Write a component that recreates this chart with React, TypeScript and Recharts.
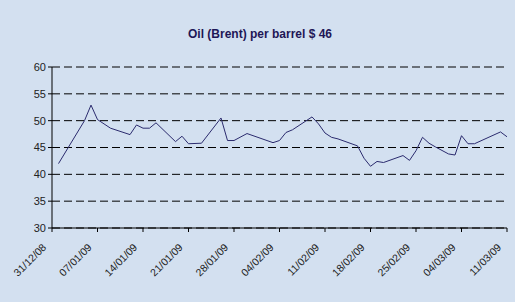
import { LineChart, Line, XAxis, YAxis, CartesianGrid } from "recharts";

// days counted from 31/12/08
const days = [1, 5, 6, 7, 9, 12, 13, 14, 15, 16, 19, 20, 21, 23, 26, 27, 28, 30, 34, 35, 36, 37, 40, 41, 42, 43, 44, 47, 48, 49, 50, 51, 54, 55, 56, 57, 58, 59, 61, 62, 63, 64, 65, 69, 70];
const prices = [42.0, 50.0, 52.9, 50.2, 48.6, 47.4, 49.2, 48.6, 48.6, 49.6, 46.1, 47.1, 45.7, 45.8, 50.5, 46.3, 46.3, 47.6, 45.9, 46.3, 47.8, 48.3, 50.7, 49.4, 47.7, 46.9, 46.6, 45.3, 43.0, 41.5, 42.4, 42.2, 43.5, 42.6, 44.4, 46.9, 45.8, 45.1, 43.8, 43.6, 47.2, 45.7, 45.7, 47.9, 47.0];

const tickDays = [0, 7, 14, 21, 28, 35, 42, 49, 56, 63, 70];
const tickLabels = ["31/12/08", "07/01/09", "14/01/09", "21/01/09", "28/01/09", "04/02/09", "11/02/09", "18/02/09", "25/02/09", "04/03/09", "11/03/09"];
const yTicks = [30, 35, 40, 45, 50, 55, 60];

const data = days.map((d, i) => ({ day: d, price: prices[i] }));

const FONT = "'Liberation Sans', Arial, sans-serif";

function DateTick(props: any) {
  const { x, y, payload } = props;
  const idx = tickDays.indexOf(payload.value);
  const ax = x - 5;
  const ay = y + 14;
  return (
    <text
      x={ax}
      y={ay}
      transform={`rotate(-45, ${ax}, ${ay})`}
      textAnchor="end"
      fontSize={10.5}
      fontFamily={FONT}
      fill="#222"
    >
      {tickLabels[idx]}
    </text>
  );
}

export default function App() {
  return (
    <div style={{ position: "relative", width: 515, height: 302, background: "#d3e0f0" }}>
      <style>{`body{margin:0}`}</style>
      <div
        style={{
          position: "absolute",
          top: 27,
          left: 0,
          width: 520,
          textAlign: "center",
          fontFamily: FONT,
          fontWeight: "bold",
          fontSize: 12,
          color: "#1e1656",
        }}
      >
        Oil (Brent) per barrel $ 46
      </div>
      <LineChart
        width={515}
        height={302}
        data={data}
        margin={{ top: 67, right: 8, bottom: 0, left: 0 }}
      >
        <CartesianGrid vertical={false} stroke="#000" strokeDasharray="8 4" />
        <XAxis
          dataKey="day"
          type="number"
          domain={[0, 70]}
          ticks={tickDays}
          interval={0}
          stroke="#000"
          tickSize={4}
          tick={<DateTick />}
          height={74}
        />
        <YAxis
          domain={[30, 60]}
          ticks={yTicks}
          interval={0}
          width={52}
          stroke="#000"
          tickSize={4}
          tickMargin={2}
          tick={{ fontSize: 11, fontFamily: FONT, fill: "#222" }}
        />
        <Line
          type="linear"
          dataKey="price"
          stroke="#2b2b6e"
          strokeWidth={1}
          dot={false}
          isAnimationActive={false}
        />
      </LineChart>
    </div>
  );
}
